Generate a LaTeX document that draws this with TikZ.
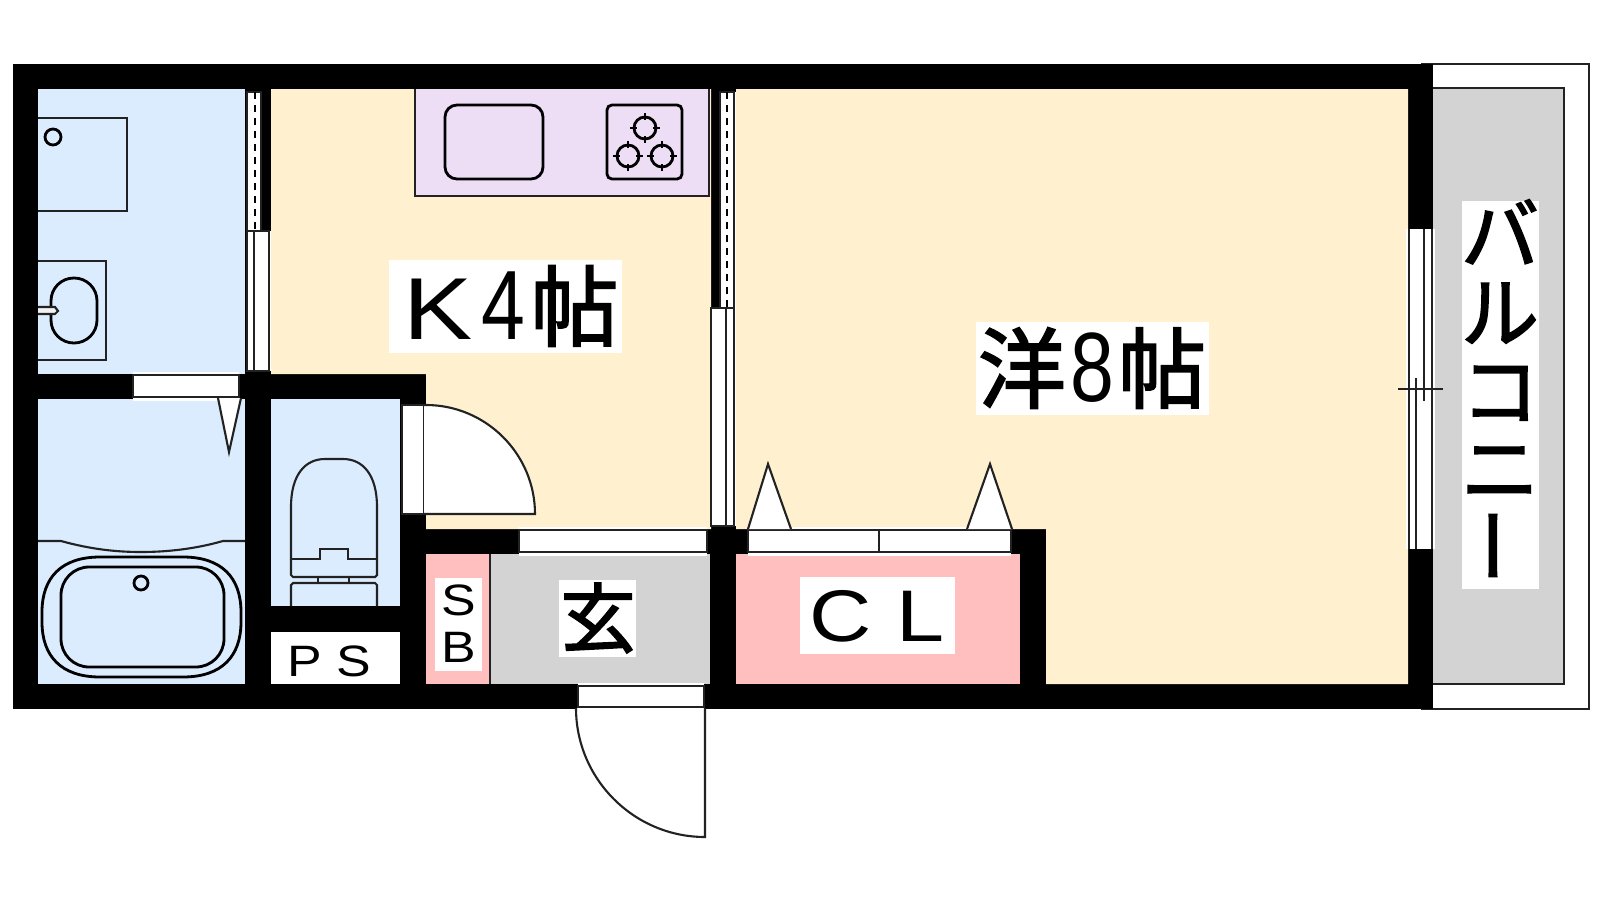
\documentclass[tikz,border=0pt]{standalone}
\usepackage{fontspec}
\usepackage{graphicx}
\setmainfont{Liberation Sans}
\newfontfamily\cjk[RawFeature={embolden=2}]{Noto Sans CJK JP}
\definecolor{bathblue}{HTML}{DBECFF}
\definecolor{roomyellow}{HTML}{FFF1D0}
\definecolor{kitchenpurple}{HTML}{EDDDF5}
\definecolor{closetpink}{HTML}{FFBFBF}
\definecolor{floorgray}{HTML}{D3D3D3}
\definecolor{linegray}{HTML}{222222}
\newcommand{\widelatin}[1]{\scalebox{1.18}[1]{#1}}
\newcommand{\tallnum}[1]{\scalebox{0.8}[1]{\fontsize{28}{28}\selectfont #1}}

\begin{document}
\begin{tikzpicture}[x=0.01cm, y=-0.01cm, line join=miter]
    % Define styles
    \tikzstyle{fixture} = [draw=linegray, line width=0.6pt]
    \tikzstyle{heavy} = [draw=black, line width=0.8pt]
    \tikzstyle{sash} = [fixture, fill=white]
    \tikzstyle{screen} = [black, line width=0.8pt, dash pattern=on 1.9pt off 1.8pt]
    \tikzstyle{labelbig} = [inner sep=0pt, font=\fontsize{25}{25}\selectfont]
    \tikzstyle{labelmid} = [inner sep=0pt, font=\fontsize{20.8}{20.8}\selectfont]
    \tikzstyle{labelsmall} = [inner sep=0pt, align=center, font=\fontsize{12.5}{13.4}\selectfont]
    \tikzstyle{labeltall} = [inner sep=0pt, align=center, font=\cjk\fontsize{22.2}{22.2}\selectfont]

    \useasboundingbox (0,0) rectangle (1600,900);

    % Balcony
    \draw [fixture] (1421,64) -- (1589,64) -- (1589,709) -- (1421,709);
    \draw [fixture, fill=floorgray] (1433,88) -- (1564,88) -- (1564,684) -- (1433,684);

    % Outer walls as one block
    \fill [black] (13,64) rectangle (1433,709);

    % Rooms
    \fill [bathblue] (38,89) rectangle (245,374);
    \fill [bathblue] (38,399) rectangle (245,684);
    \fill [bathblue] (271,399) rectangle (400,606);
    \fill [white] (271,632) rectangle (400,684);
    \fill [roomyellow] (271,89) -- (711,89) -- (711,529) -- (426,529) -- (426,374) -- (271,374) -- cycle;
    \fill [roomyellow] (736,89) -- (1408,89) -- (1408,684) -- (1046,684) -- (1046,529) -- (736,529) -- cycle;
    \fill [closetpink] (426,554) rectangle (490,684);
    \fill [floorgray] (490,554) rectangle (710,684);
    \fill [closetpink] (736,554) rectangle (1020,684);
    \fill [linegray] (489,554) rectangle (491,684);

    % Bath windows and door
    \fill [white] (269,231) rectangle (271,371);
    \draw [sash] (247,92) rectangle (261,231);
    \draw [screen] (255,92) -- (255,231);
    \draw [sash] (247,231) rectangle (269,371);
    \draw [fixture] (254,231) -- (254,371);
    \fill [white] (133,372) rectangle (239,401);
    \draw [fixture] (133,375) rectangle (239,397);
    \draw [sash] (218,398) -- (229,452) -- (241,398);

    % Washer and basin
    \draw [fixture] (38,118) -- (127,118) -- (127,211) -- (38,211);
    \draw [heavy] (53,137) circle [radius=8];
    \draw [fixture] (38,261) -- (106,261) -- (106,360) -- (38,360);
    \draw [heavy, rounded corners=6.5pt] (51,278) rectangle (97,343);
    \draw [fixture, fill=floorgray!30] (38,307) -- (55,307) -- (58,311) -- (55,314) -- (38,314);

    % Bathtub
    \draw [fixture] (38,541) -- (61,541) .. controls (90,549) and (115,552) .. (141,552) .. controls (167,552) and (195,549) .. (223,541) -- (245,541);
    \draw [heavy] (100,557) -- (183,557) .. controls (222,557) and (241,578) .. (241,612) -- (241,622) .. controls (241,656) and (222,677) .. (183,677) -- (100,677) .. controls (61,677) and (42,656) .. (42,622) -- (42,612) .. controls (42,578) and (61,557) .. (100,557) -- cycle;
    \draw [heavy, rounded corners=8pt] (61,567) rectangle (224,667);
    \draw [heavy] (141,583) circle [radius=7];

    % Toilet
    \draw [fixture] (291,575) -- (291,507) .. controls (291,475) and (305,459) .. (325,459) -- (343,459) .. controls (363,459) and (377,475) .. (377,507) -- (377,575) -- (375,577) -- (293,577) -- cycle;
    \draw [fixture] (291,559) -- (320,559) -- (320,549) -- (348,549) -- (348,559) -- (377,559);
    \draw [fixture] (318,577) -- (318,583);
    \draw [fixture] (349,577) -- (349,583);
    \draw [fixture] (291,606) -- (291,585) -- (293,583) -- (375,583) -- (377,585) -- (377,606);

    % Kitchen
    \draw [fixture, fill=kitchenpurple] (415,89) -- (415,196) -- (709,196) -- (709,89);
    \draw [heavy, rounded corners=3.4pt] (445,105) rectangle (543,179);
    \draw [heavy, rounded corners=1.4pt] (607,105) rectangle (682,179);
    \foreach \bx/\by in {645/128, 628/156, 662/156} {
        \draw [heavy] (\bx,\by) circle [radius=11];
        \draw [heavy] (\bx-15,\by) -- (\bx-8,\by) (\bx+8,\by) -- (\bx+15,\by);
        \draw [heavy] (\bx,\by-15) -- (\bx,\by-8) (\bx,\by+8) -- (\bx,\by+15);
    }

    % Kitchen and room partition
    \fill [white] (734,92) rectangle (736,526);
    \draw [sash] (720,92) rectangle (734,308);
    \draw [screen] (727,92) -- (727,308);
    \draw [sash] (711,308) rectangle (734,526);
    \draw [fixture] (726,308) -- (726,526);

    % Kitchen side door
    \draw [sash] (402,405) rectangle (424,514);
    \draw [sash] (424,514) -- (535,514) .. controls (535,454) and (486,405) .. (426,405) -- (424,405);

    % Door to kitchen, closet doors
    \fill [white] (519,527) rectangle (707,556);
    \draw [fixture] (519,530) rectangle (707,552);
    \fill [white] (748,527) rectangle (1011,556);
    \draw [fixture] (748,530) rectangle (1011,552);
    \draw [fixture] (879,530) -- (879,552);
    \draw [sash] (748,529) -- (768,464) -- (791,529);
    \draw [sash] (967,529) -- (990,464) -- (1012,529);

    % Entrance door
    \fill [white] (578,683) rectangle (704,707);
    \draw [fixture] (578,686) rectangle (704,707);
    \draw [sash] (576,708) .. controls (576,779) and (634,837) .. (705,837) -- (705,708);

    % Balcony window
    \fill [white] (1406,229) rectangle (1435,549);
    \draw [fixture] (1409,229) -- (1409,549);
    \draw [fixture] (1432,229) -- (1432,549);
    \draw [fixture] (1424,229) -- (1424,401);
    \draw [fixture] (1416,378) -- (1416,549);
    \draw [fixture] (1398,389) -- (1443,389);

    % Label backgrounds
    \fill [white] (389,260) rectangle (622,353);
    \fill [white] (976,322) rectangle (1209,415);
    \fill [white] (800,577) rectangle (955,654);
    \fill [white] (559,580) rectangle (636,657);
    \fill [white] (435,578) rectangle (482,671);
    \fill [white] (1462,201) rectangle (1539,589);

    % Labels
    \node (kitchen) [labelbig] at (511,306) {\widelatin{K}\hspace{2.5pt}\tallnum{4}\hspace{1.5pt}{\cjk 帖}};
    \node (western) [labelbig] at (1092,368) {{\cjk 洋}\hspace{1.4pt}\tallnum{8}\hspace{1pt}{\cjk 帖}};
    \node (closet) [labelmid] at (877,616) {\widelatin{C}\hspace{7pt}\widelatin{L}};
    \node (entry) [labelbig] at (598,618) {\cjk\fontsize{21.5}{21.5}\selectfont 玄};
    \node (shoebox) [labelsmall] at (459,624) {\widelatin{S}\\\widelatin{B}};
    \node (pipes) [labelsmall] at (329,661) {\widelatin{P}\hspace{4pt}\widelatin{S}};
    \node (balcony) [labeltall] at (1500,392) {バ\\ル\\コ\\ニ\\\raisebox{-2.5pt}{\hspace{3.4pt}\rotatebox{90}{ー}}};
\end{tikzpicture}
\end{document}
